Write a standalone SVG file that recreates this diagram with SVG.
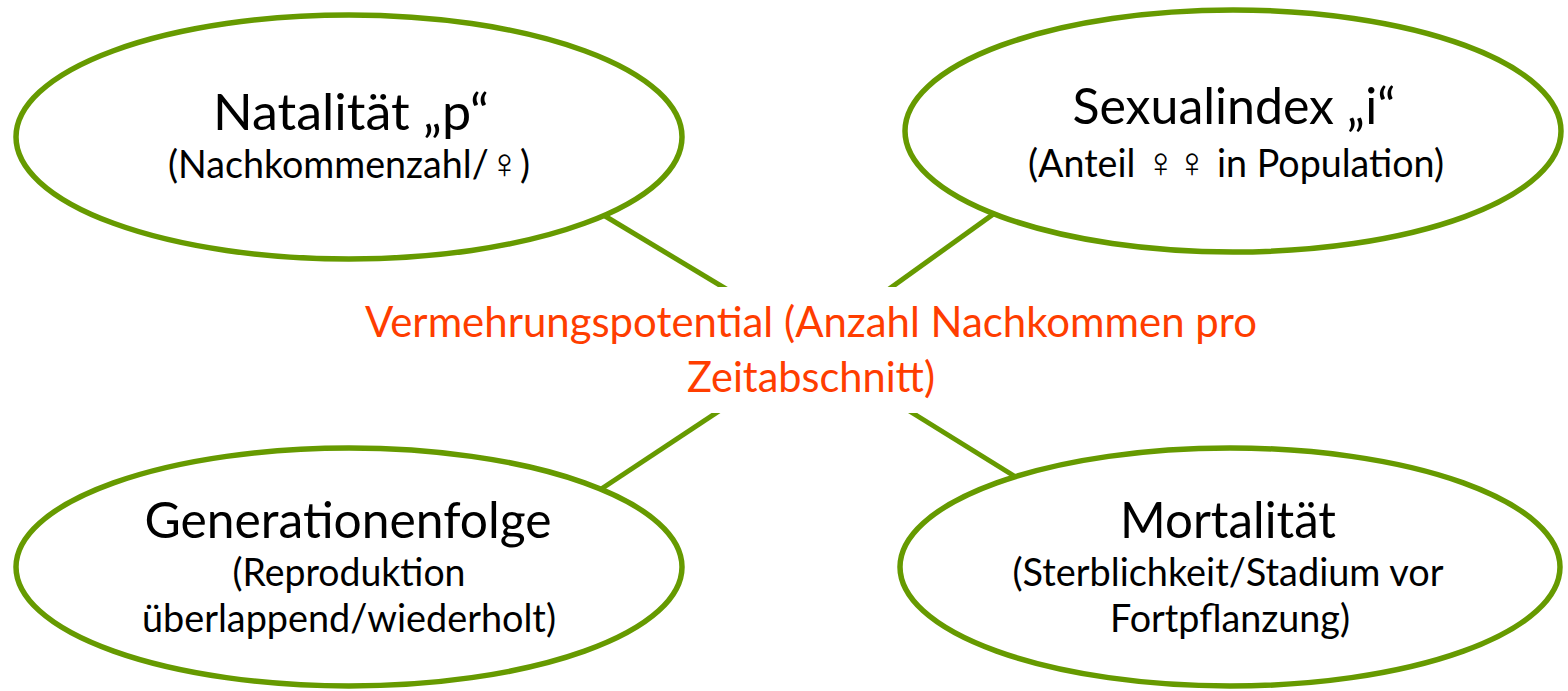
<svg xmlns="http://www.w3.org/2000/svg" width="1568" height="691" viewBox="0 0 1568 691">
<style>
.conn{stroke:#669a00;stroke-width:5;fill:none}
.node{fill:#fff;stroke:#669a00;stroke-width:5.5}
.t{font-family:Lato,"Open Sans","Liberation Sans",sans-serif;fill:#000;text-anchor:middle}
.h{font-size:50px}
.s{font-size:38px}
.sym{font-family:"DejaVu Sans",sans-serif;font-size:42px;font-weight:200}
.c{font-family:Lato,"Open Sans","Liberation Sans",sans-serif;font-size:43px;fill:#ff3d00;text-anchor:middle}
</style>
<rect width="1568" height="691" fill="#fff"/>
<g id="connectors">
<line class="conn" x1="580" y1="201" x2="811" y2="340"/>
<line class="conn" x1="1020" y1="195" x2="811" y2="345"/>
<line class="conn" x1="580" y1="503" x2="811" y2="350"/>
<line class="conn" x1="1040" y1="492" x2="811" y2="350"/>
</g>
<g id="center">
<rect x="350" y="287" width="920" height="126" fill="#fff"/>
<text class="c" x="811" y="337" textLength="892" lengthAdjust="spacingAndGlyphs">Vermehrungspotential (Anzahl Nachkommen pro</text>
<text class="c" x="811" y="392" textLength="248" lengthAdjust="spacingAndGlyphs">Zeitabschnitt)</text>
</g>
<g id="natalitaet">
<ellipse class="node" cx="349" cy="137" rx="333" ry="122"/>
<text class="t h" x="351" y="130" textLength="276" lengthAdjust="spacingAndGlyphs">Natalität „p“</text>
<text class="t s" x="349" y="178" textLength="362" lengthAdjust="spacingAndGlyphs">(Nachkommenzahl/<tspan class="sym">♀</tspan>)</text>
</g>
<g id="sexualindex">
<ellipse class="node" cx="1233" cy="131" rx="328" ry="121"/>
<text class="t h" x="1234" y="124" textLength="323" lengthAdjust="spacingAndGlyphs">Sexualindex „i“</text>
<text class="t s" x="1236" y="177" textLength="416" lengthAdjust="spacingAndGlyphs">(Anteil <tspan class="sym">♀♀</tspan> in Population)</text>
</g>
<g id="generationenfolge">
<ellipse class="node" cx="349" cy="567" rx="333" ry="119"/>
<text class="t h" x="348" y="538" textLength="407" lengthAdjust="spacingAndGlyphs">Generationenfolge</text>
<text class="t s" x="349" y="586" textLength="233" lengthAdjust="spacingAndGlyphs">(Reproduktion</text>
<text class="t s" x="349" y="632" textLength="414" lengthAdjust="spacingAndGlyphs">überlappend/wiederholt)</text>
</g>
<g id="mortalitaet">
<ellipse class="node" cx="1230" cy="567" rx="330" ry="119"/>
<text class="t h" x="1228" y="538" textLength="216" lengthAdjust="spacingAndGlyphs">Mortalität</text>
<text class="t s" x="1228" y="586" textLength="431" lengthAdjust="spacingAndGlyphs">(Sterblichkeit/Stadium vor</text>
<text class="t s" x="1230" y="632" textLength="240" lengthAdjust="spacingAndGlyphs">Fortpflanzung)</text>
</g>
</svg>
